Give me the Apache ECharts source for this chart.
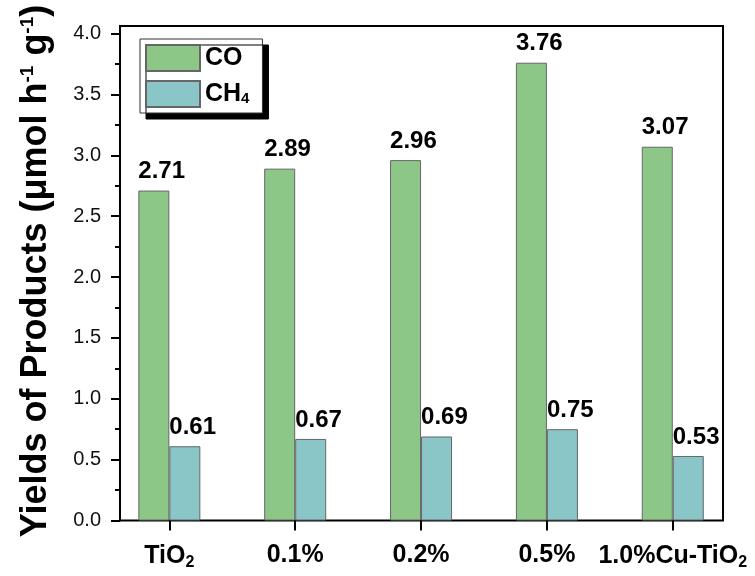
<!DOCTYPE html>
<html><head><meta charset="utf-8">
<script src="https://cdn.jsdelivr.net/npm/echarts@6/dist/echarts.min.js"></script>
<style>html,body{margin:0;padding:0;background:#fff}#c{width:755px;height:576px}</style>
</head><body><div id="c"></div>
<script>
const categories = ['TiO2', '0.1%', '0.2%', '0.5%', '1.0%Cu-TiO2'];
const coValues = [2.71, 2.89, 2.96, 3.76, 3.07];
const ch4Values = [0.61, 0.67, 0.69, 0.75, 0.53];
const seriesNames = ['CO', 'CH4'];

const FONT = 'Liberation Sans, Arial, sans-serif';
const BAR_W = 31;
const chart = echarts.init(document.getElementById('c'), null, {renderer: 'canvas'});

function subFmt(s) {
  return s.replace(/O2$/, 'O{sub|2}').replace(/H4$/, 'H{sub|4}');
}

const option = {
  backgroundColor: '#fff',
  animation: false,
  grid: [
    {left: 120, top: 26, width: 603, bottom: 55.5, show: true, borderColor: '#000', borderWidth: 2, backgroundColor: 'transparent'},
    {left: 120, top: 33.5, width: 603, bottom: 55.5},
    {left: 106.4, top: 33.5, width: 629.3, bottom: 55.5}
  ],
  xAxis: [
    {gridIndex: 0, type: 'value', show: false},
    {gridIndex: 1, type: 'value', show: false},
    {
      gridIndex: 2, type: 'category', data: categories,
      axisLine: {show: false},
      axisTick: {show: true, interval: 0, alignWithLabel: true, length: 10, lineStyle: {color: '#000', width: 2}},
      axisLabel: {
        interval: 0, margin: 22, color: '#000', fontFamily: FONT, fontSize: 25, fontWeight: 'bold',
        formatter: v => subFmt(v),
        rich: {sub: {fontSize: 16, fontWeight: 'bold', fontFamily: FONT, color: '#000', verticalAlign: 'bottom', padding: [12, 0, 0, 0]}}
      }
    }
  ],
  yAxis: [
    {gridIndex: 0, type: 'value', show: false},
    {
      gridIndex: 1, type: 'value', min: 0, max: 4, interval: 0.5,
      axisLine: {show: true, lineStyle: {color: '#000', width: 2}},
      axisTick: {show: true, length: 9, lineStyle: {color: '#000', width: 2}},
      minorTick: {show: true, splitNumber: 2, length: 5, lineStyle: {color: '#000', width: 2}},
      splitLine: {show: false},
      axisLabel: {margin: 19, color: '#111', fontFamily: FONT, fontSize: 20, formatter: v => v.toFixed(1)},
      name: 'Yields of Products (μmol h{sup|-1} g{sup|-1})',
      nameLocation: 'middle', nameRotate: 90, nameGap: 66,
      nameTextStyle: {
        color: '#000', fontFamily: FONT, fontSize: 36, fontWeight: 'bold', padding: [0, 0, 0, 12],
        rich: {sup: {fontSize: 19, fontWeight: 'bold', fontFamily: FONT, color: '#000', verticalAlign: 'top'}}
      }
    },
    {gridIndex: 2, type: 'value', min: 0, max: 4, show: false}
  ],
  legend: {
    orient: 'vertical', left: 140, top: 39,
    icon: 'rect',
    itemWidth: 54, itemHeight: 26, itemGap: 8,
    padding: [5, 13, 5, 5],
    backgroundColor: '#fff', borderColor: '#333', borderWidth: 1,
    shadowColor: '#000', shadowBlur: 0, shadowOffsetX: 6, shadowOffsetY: 6,
    data: seriesNames,
    formatter: n => subFmt(n),
    textStyle: {
      color: '#000', fontFamily: FONT, fontSize: 25, fontWeight: 'bold',
      rich: {sub: {fontSize: 15, fontWeight: 'bold', fontFamily: FONT, color: '#000', verticalAlign: 'bottom', padding: [10, 0, 0, 0]}}
    }
  },
  series: [
    {
      name: seriesNames[0], type: 'bar', xAxisIndex: 2, yAxisIndex: 2,
      data: coValues, barWidth: BAR_W, barGap: '0%',
      itemStyle: {color: '#8cc788', borderColor: '#666', borderWidth: 1},
      label: {show: true, position: 'top', distance: 7, align: 'left', offset: [-BAR_W / 2, 0],
        color: '#000', fontFamily: FONT, fontSize: 24, fontWeight: 'bold', formatter: p => p.value.toFixed(2)}
    },
    {
      name: seriesNames[1], type: 'bar', xAxisIndex: 2, yAxisIndex: 2,
      data: ch4Values, barWidth: BAR_W, barGap: '0%',
      itemStyle: {color: '#8ac6c8', borderColor: '#666', borderWidth: 1},
      label: {show: true, position: 'top', distance: 7, align: 'left', offset: [-BAR_W / 2, 0],
        color: '#000', fontFamily: FONT, fontSize: 24, fontWeight: 'bold', formatter: p => p.value.toFixed(2)}
    }
  ]
};
chart.setOption(option);
</script></body></html>
